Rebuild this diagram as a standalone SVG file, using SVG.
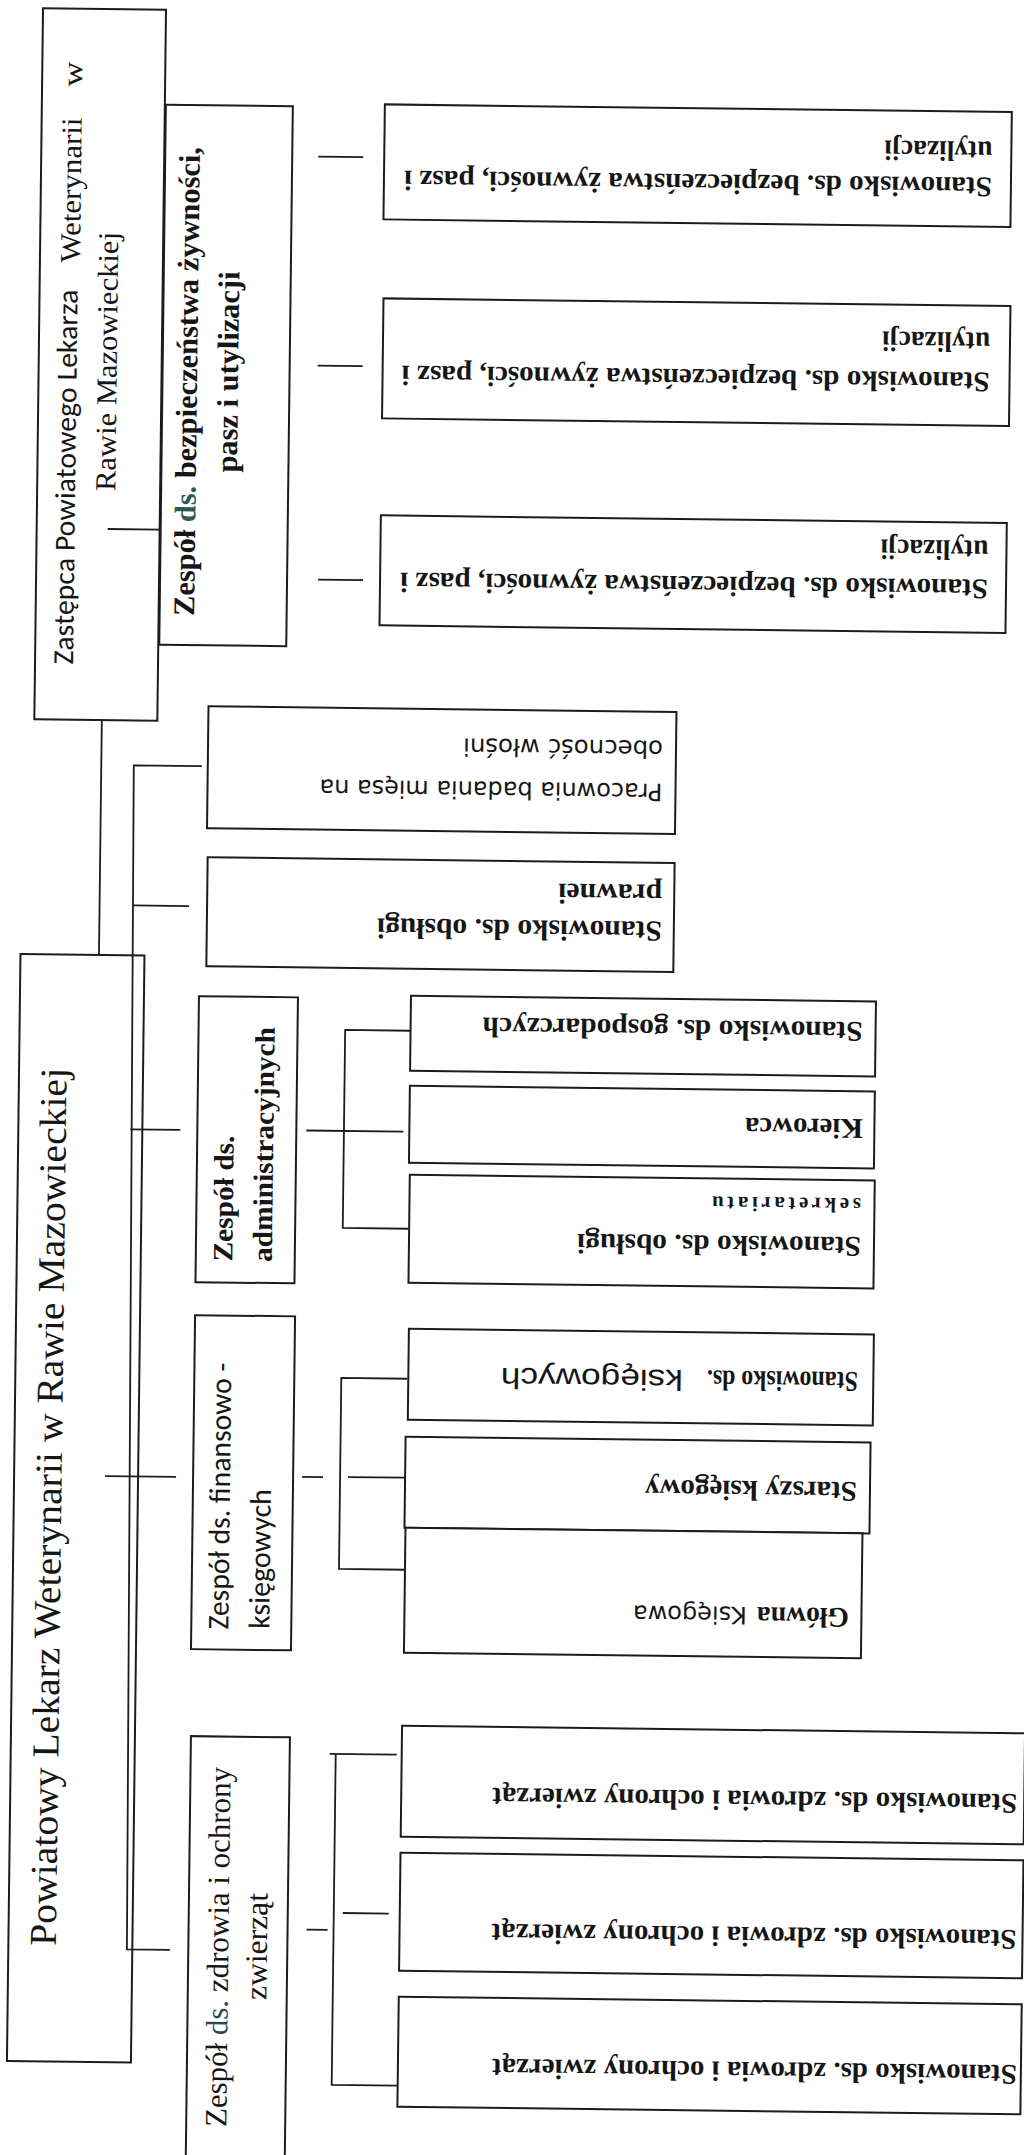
<svg xmlns="http://www.w3.org/2000/svg" width="1024" height="2155" viewBox="0 0 1024 2155">
<style>
.box{fill:#fff;stroke:#1c1c1c;stroke-width:2}
.ln{stroke:#1c1c1c;stroke-width:1.8;fill:none}
text{fill:#161616}
.sb{font-family:"Liberation Serif","Times New Roman",serif;font-weight:bold}
.sr{font-family:"Liberation Serif","Times New Roman",serif}
.ss{font-family:Carlito,Lato,"Liberation Sans",sans-serif}
.sa{font-family:"Liberation Sans",Arial,sans-serif}
.sv{font-family:"DejaVu Sans",Verdana,sans-serif}
.st{font-size:28.5px}
</style>
<rect width="1024" height="2155" fill="#fff"/>
<g transform="rotate(0.7 512 1077)">
<g id="zastepca">
<rect class="box" x="30" y="14" width="123" height="711"/>
<text class="ss" font-size="29" transform="translate(68 670) rotate(-90)" textLength="375" lengthAdjust="spacingAndGlyphs">Zastępca Powiatowego Lekarza</text>
<text class="sr" font-size="29" transform="translate(70 268) rotate(-90)" textLength="145" lengthAdjust="spacingAndGlyphs">Weterynarii</text>
<text class="sr" font-size="29" transform="translate(70 92) rotate(-90)" textLength="25" lengthAdjust="spacingAndGlyphs">w</text>
<text class="sr" font-size="29" transform="translate(108 496) rotate(-90)" textLength="259" lengthAdjust="spacingAndGlyphs">Rawie Mazowieckiej</text>
</g>
<g id="zespol-bezp">
<rect class="box" x="154" y="109" width="127" height="540"/>
<text class="sb" font-size="30" transform="translate(188.5 620) rotate(-90)" textLength="469" lengthAdjust="spacingAndGlyphs">Zespół <tspan fill="#2d5a55">ds.</tspan> bezpieczeństwa żywności,</text>
<text class="sb" font-size="30" transform="translate(229.5 476) rotate(-90)" textLength="201" lengthAdjust="spacingAndGlyphs">pasz  i utylizacji</text>
</g>
<g id="bezp-1">
<rect class="box" x="373" y="106" width="627" height="115"/>
<text class="sb st" transform="translate(981 172) rotate(180)" textLength="588" lengthAdjust="spacingAndGlyphs">Stanowisko ds. bezpieczeństwa żywności, pasz i</text>
<text class="sb st" transform="translate(981 136) rotate(180)" textLength="108" lengthAdjust="spacingAndGlyphs">utylizacji</text>
</g>
<g id="bezp-2">
<rect class="box" x="374" y="300" width="627" height="120"/>
<text class="sb st" transform="translate(981 367) rotate(180)" textLength="588" lengthAdjust="spacingAndGlyphs">Stanowisko ds. bezpieczeństwa żywności, pasz i</text>
<text class="sb st" transform="translate(981 327) rotate(180)" textLength="108" lengthAdjust="spacingAndGlyphs">utylizacji</text>
</g>
<g id="bezp-3">
<rect class="box" x="374" y="517" width="626" height="110"/>
<text class="sb st" transform="translate(982 574) rotate(180)" textLength="588" lengthAdjust="spacingAndGlyphs">Stanowisko ds. bezpieczeństwa żywności, pasz i</text>
<text class="sb st" transform="translate(982 535) rotate(180)" textLength="108" lengthAdjust="spacingAndGlyphs">utylizacji</text>
</g>
<g id="pracownia">
<rect class="box" x="204" y="710" width="468" height="122"/>
<text class="sv" font-size="24" transform="translate(659 782) rotate(180)" textLength="343" lengthAdjust="spacingAndGlyphs">Pracownia badania mięsa na</text>
<text class="sv" font-size="24" transform="translate(659 739) rotate(180)" textLength="200" lengthAdjust="spacingAndGlyphs">obecność włośni</text>
</g>
<g id="obsluga-prawna">
<rect class="box" x="205" y="861" width="467" height="109"/>
<text class="sb" font-size="29" transform="translate(660 920) rotate(180)" textLength="285" lengthAdjust="spacingAndGlyphs">Stanowisko ds. obsługi</text>
<text class="sb" font-size="29" transform="translate(660 883) rotate(180)" textLength="104" lengthAdjust="spacingAndGlyphs">prawnei</text>
</g>
<g id="powiatowy">
<rect class="box" x="19" y="960" width="124" height="1107"/>
<text class="sr" font-size="38" transform="translate(66.5 1951.5) rotate(-90)" textLength="878" lengthAdjust="spacingAndGlyphs">Powiatowy Lekarz Weterynarii w Rawie Mazowieckiej</text>
</g>
<g id="zespol-adm">
<rect class="box" x="198" y="1000" width="99" height="286"/>
<text class="sb" font-size="28" transform="translate(234.5 1265) rotate(-90)" textLength="126" lengthAdjust="spacingAndGlyphs">Zespół ds.</text>
<text class="sb" font-size="28" transform="translate(274 1265) rotate(-90)" textLength="235" lengthAdjust="spacingAndGlyphs">administracyjnych</text>
</g>
<g id="gospodarcze">
<rect class="box" x="410" y="997" width="465" height="75"/>
<text class="sb st" transform="translate(862 1018) rotate(180)" textLength="380" lengthAdjust="spacingAndGlyphs">Stanowisko ds.  gospodarczych</text>
</g>
<g id="kierowca">
<rect class="box" x="410" y="1087" width="465" height="77"/>
<text class="sb st" transform="translate(863.5 1115) rotate(180)" textLength="118" lengthAdjust="spacingAndGlyphs">Kierowca</text>
</g>
<g id="sekretariat">
<rect class="box" x="411" y="1176" width="465" height="108"/>
<text class="sb st" transform="translate(863 1233) rotate(180)" textLength="284" lengthAdjust="spacingAndGlyphs">Stanowisko ds.  obsługi</text>
<text class="sb" font-size="21" transform="translate(862.5 1194) rotate(180)" textLength="149" lengthAdjust="spacing">sekretariatu</text>
</g>
<g id="zespol-fin">
<rect class="box" x="198" y="1319" width="100" height="334"/>
<text class="ss" font-size="30" transform="translate(235 1633) rotate(-90)" textLength="267" lengthAdjust="spacingAndGlyphs">Zespół ds. finansowo -</text>
<text class="ss" font-size="30" transform="translate(276 1632) rotate(-90)" textLength="140" lengthAdjust="spacingAndGlyphs">księgowych</text>
</g>
<g id="ksiegowe">
<rect class="box" x="412" y="1330" width="465" height="91"/>
<text class="sb st" transform="translate(861.5 1368) rotate(180)" textLength="151" lengthAdjust="spacingAndGlyphs">Stanowisko ds.</text>
<text class="sa" font-size="29" transform="translate(686.5 1368) rotate(180)" textLength="182" lengthAdjust="spacingAndGlyphs">księgowych</text>
</g>
<g id="starszy-ksiegowy">
<rect class="box" x="410" y="1438" width="465" height="91"/>
<text class="sb st" transform="translate(862 1478) rotate(180)" textLength="212" lengthAdjust="spacingAndGlyphs">Starszy księgowy</text>
</g>
<g id="glowna-ksiegowa">
<rect class="box" x="411" y="1529" width="457" height="125"/>
<text class="sb st" transform="translate(855.5 1604) rotate(180)" textLength="92" lengthAdjust="spacingAndGlyphs">Główna</text>
<text class="sv" font-size="24" transform="translate(753.5 1604) rotate(180)" textLength="114" lengthAdjust="spacingAndGlyphs">Księgowa</text>
</g>
<g id="zespol-zdrowia">
<rect class="box" x="199" y="1740" width="99" height="480"/>
<text class="sr" font-size="31" transform="translate(239 2130.5) rotate(-90)" textLength="360" lengthAdjust="spacingAndGlyphs">Zespół <tspan fill="#2a4a5a">ds.</tspan> zdrowia i ochrony</text>
<text class="sr" font-size="31" transform="translate(277.5 2003) rotate(-90)" textLength="107" lengthAdjust="spacingAndGlyphs">zwierząt</text>
</g>
<g id="zdrowie-1">
<rect class="box" x="410" y="1727" width="623" height="111"/>
<text class="sb st" transform="translate(1026 1788) rotate(180)" textLength="525" lengthAdjust="spacingAndGlyphs">Stanowisko ds. zdrowia i ochrony  zwierząt</text>
</g>
<g id="zdrowie-2">
<rect class="box" x="410" y="1854" width="623" height="118"/>
<text class="sb st" transform="translate(1027 1924) rotate(180)" textLength="525" lengthAdjust="spacingAndGlyphs">Stanowisko ds. zdrowia i ochrony  zwierząt</text>
</g>
<g id="zdrowie-3">
<rect class="box" x="410" y="1998" width="623" height="110"/>
<text class="sb st" transform="translate(1029 2059) rotate(180)" textLength="525" lengthAdjust="spacingAndGlyphs">Stanowisko ds. zdrowia i ochrony  zwierząt</text>
</g>
<g id="connectors" class="ln">
<line x1="101" y1="534" x2="153" y2="534"/>
<line x1="307" y1="159" x2="352" y2="159"/>
<line x1="309" y1="368" x2="354" y2="368"/>
<line x1="312" y1="582" x2="357" y2="582"/>
<line x1="97.5" y1="725" x2="97.5" y2="960"/>
<polyline points="198,770 130,770 137.6,1954 180.6,1954"/>
<line x1="131" y1="910" x2="187" y2="910"/>
<line x1="131" y1="1134" x2="181" y2="1134"/>
<line x1="110" y1="1481" x2="181" y2="1481"/>
<line x1="307" y1="1133" x2="404" y2="1133"/>
<polyline points="409.5,1032 344.6,1032 344.6,1230 410,1230"/>
<line x1="307" y1="1479.5" x2="328" y2="1479.5"/>
<polyline points="411,1380 345,1380 345,1571 411,1571"/>
<line x1="353" y1="1479" x2="410" y2="1479"/>
<line x1="317" y1="1932" x2="338" y2="1932"/>
<line x1="338" y1="1756" x2="405" y2="1756"/>
<polyline points="344,1756 344,2087 410,2087"/>
<line x1="353" y1="1915" x2="399" y2="1915"/>
</g>
</g>
</svg>
